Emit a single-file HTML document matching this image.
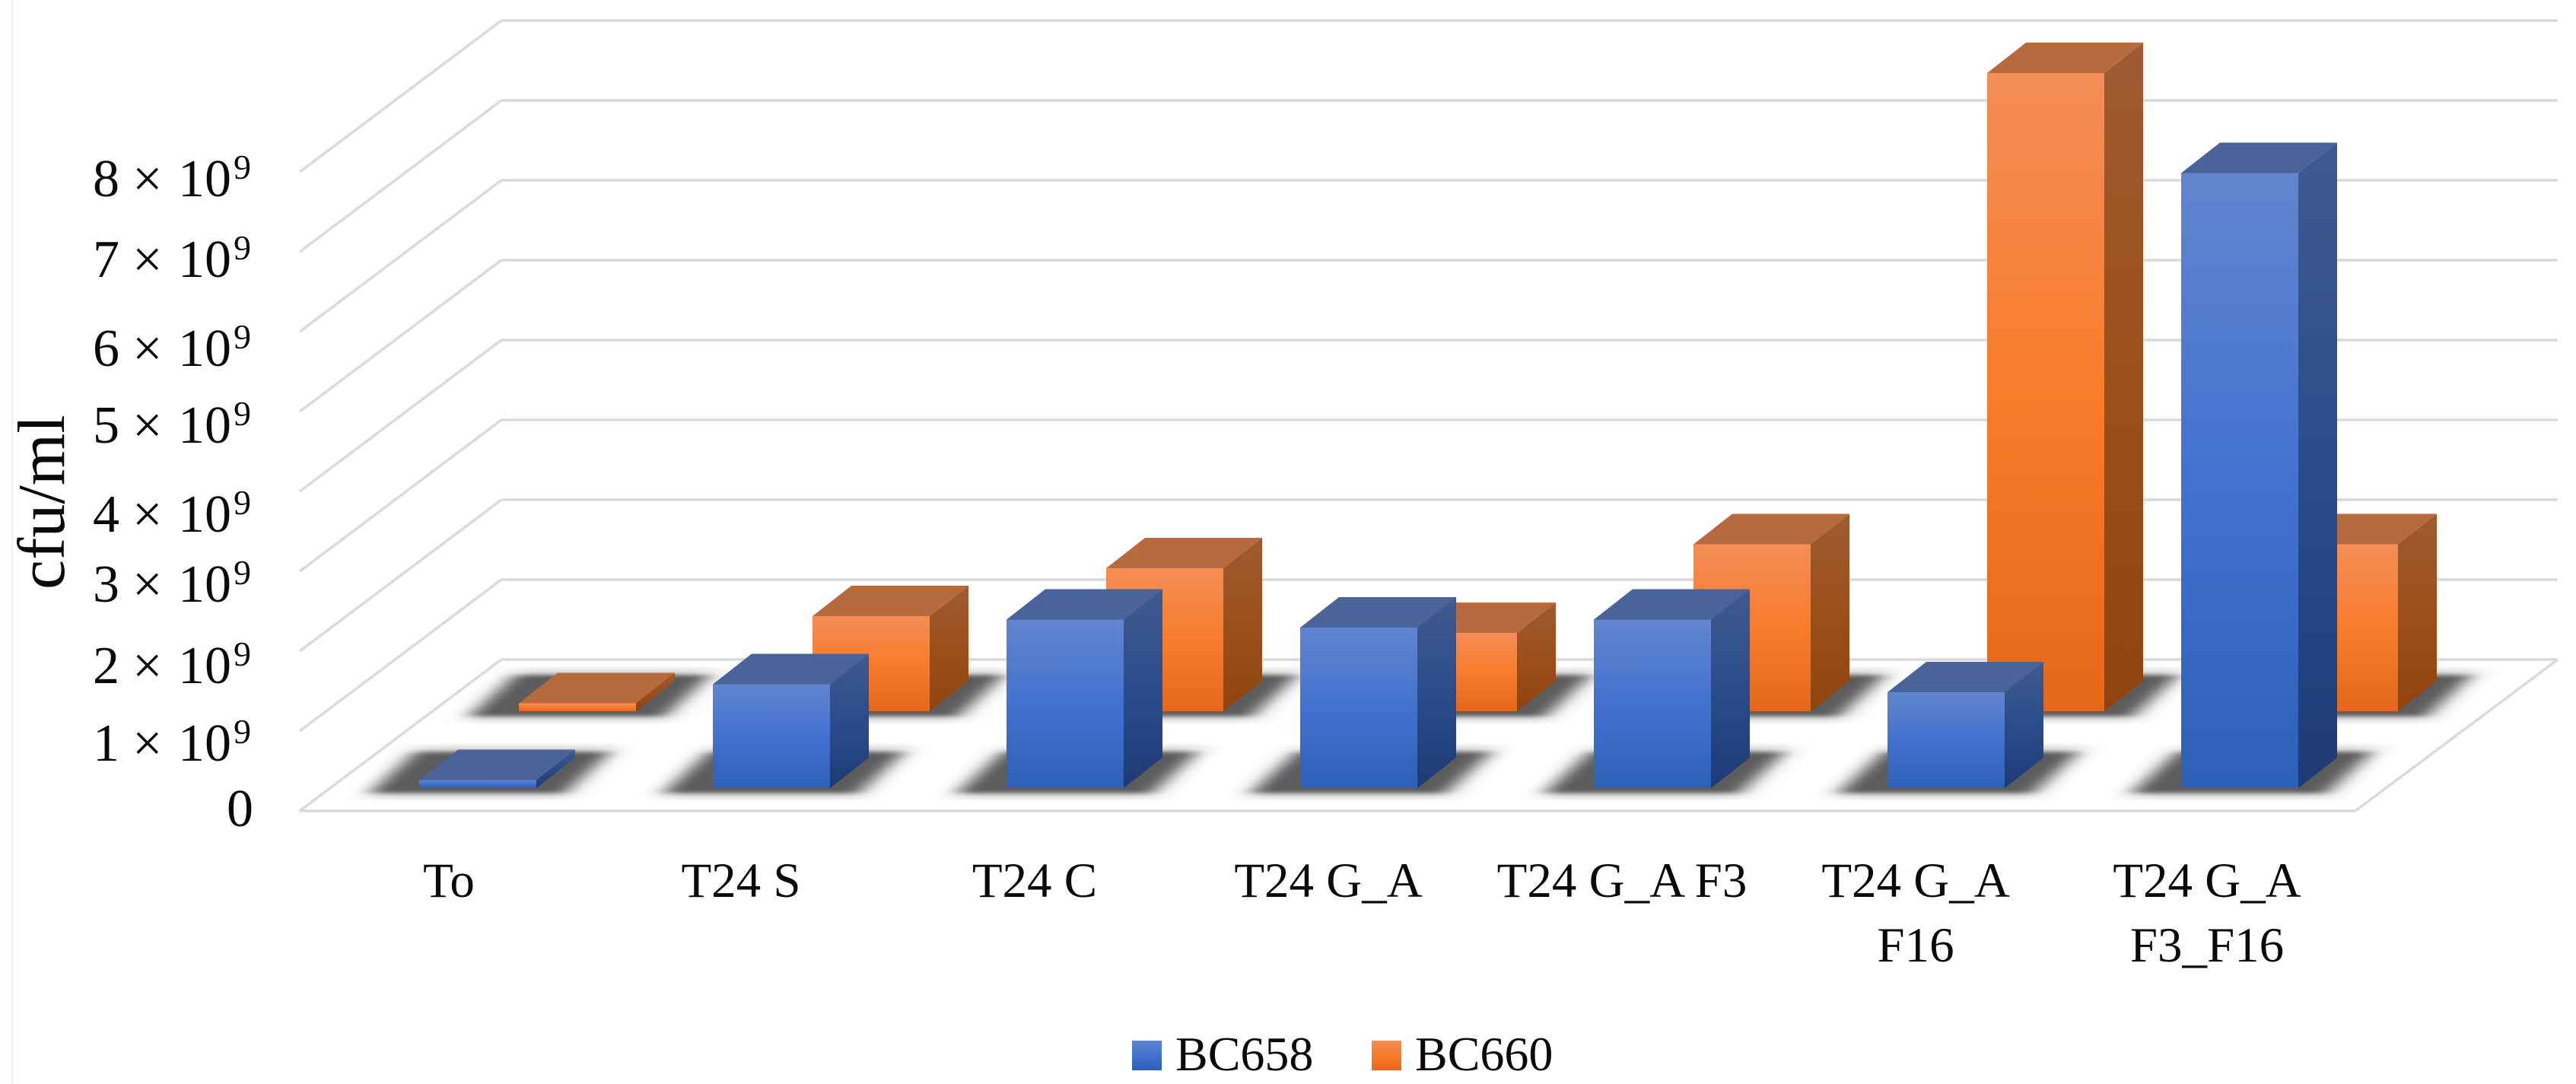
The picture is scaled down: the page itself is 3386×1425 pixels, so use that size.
<!DOCTYPE html>
<html lang="en">
<head>
<meta charset="utf-8">
<title>cfu/ml by treatment</title>
<style>
html,body{margin:0;padding:0;background:#fff;}
svg{display:block;}
text{font-family:"Liberation Serif",serif;fill:#0a0a0a;}
</style>
</head>
<body>
<svg id="chart" xmlns="http://www.w3.org/2000/svg" width="3386" height="1425" viewBox="0 0 3386 1425">
  <defs>
    <linearGradient id="blueFront" x1="0" y1="0" x2="0" y2="1">
      <stop offset="0" stop-color="#6285ce"/><stop offset="0.5" stop-color="#4272cf"/><stop offset="1" stop-color="#2e60b6"/>
    </linearGradient>
    <linearGradient id="blueSide" x1="0" y1="0" x2="0" y2="1">
      <stop offset="0" stop-color="#3f5a8e"/><stop offset="0.5" stop-color="#2b4c8c"/><stop offset="1" stop-color="#1d3a75"/>
    </linearGradient>
    <linearGradient id="orangeFront" x1="0" y1="0" x2="0" y2="1">
      <stop offset="0" stop-color="#f48d58"/><stop offset="0.5" stop-color="#f87c2a"/><stop offset="1" stop-color="#e46818"/>
    </linearGradient>
    <linearGradient id="orangeSide" x1="0" y1="0" x2="0" y2="1">
      <stop offset="0" stop-color="#9e5b32"/><stop offset="0.5" stop-color="#9c4f1a"/><stop offset="1" stop-color="#8f440f"/>
    </linearGradient>
    <filter id="shadowBlur" filterUnits="userSpaceOnUse" x="0" y="0" width="3386" height="1425">
      <feGaussianBlur stdDeviation="13 3"/>
    </filter>
    <filter id="haloBlur" filterUnits="userSpaceOnUse" x="0" y="0" width="3386" height="1425">
      <feGaussianBlur stdDeviation="18 2"/>
    </filter>
  </defs>

  <rect x="0" y="0" width="3386" height="1425" fill="#ffffff"/>
  <line x1="16" y1="0" x2="16" y2="1425" stroke="#f0f0f0" stroke-width="2"/>

  <g id="grid"></g>
  <g id="halos" filter="url(#haloBlur)"></g>
  <g id="shadows" filter="url(#shadowBlur)"></g>
  <g id="bars"></g>

  <text font-size="88" transform="translate(84,775) rotate(-90)">cfu/ml</text>

  <g font-size="70">
    <text y="258"><tspan x="122">8</tspan><tspan x="174">×</tspan><tspan x="234">10</tspan><tspan x="307" dy="-23" font-size="46">9</tspan></text>
    <text y="364"><tspan x="122">7</tspan><tspan x="174">×</tspan><tspan x="234">10</tspan><tspan x="307" dy="-23" font-size="46">9</tspan></text>
    <text y="481"><tspan x="122">6</tspan><tspan x="174">×</tspan><tspan x="234">10</tspan><tspan x="307" dy="-23" font-size="46">9</tspan></text>
    <text y="582"><tspan x="122">5</tspan><tspan x="174">×</tspan><tspan x="234">10</tspan><tspan x="307" dy="-23" font-size="46">9</tspan></text>
    <text y="699"><tspan x="122">4</tspan><tspan x="174">×</tspan><tspan x="234">10</tspan><tspan x="307" dy="-23" font-size="46">9</tspan></text>
    <text y="791"><tspan x="122">3</tspan><tspan x="174">×</tspan><tspan x="234">10</tspan><tspan x="307" dy="-23" font-size="46">9</tspan></text>
    <text y="898"><tspan x="122">2</tspan><tspan x="174">×</tspan><tspan x="234">10</tspan><tspan x="307" dy="-23" font-size="46">9</tspan></text>
    <text y="1000"><tspan x="122">1</tspan><tspan x="174">×</tspan><tspan x="234">10</tspan><tspan x="307" dy="-23" font-size="46">9</tspan></text>
    <text y="1086" x="298">0</text>
  </g>

  <g font-size="65" text-anchor="middle">
    <text x="590" y="1179">To</text>
    <text x="974" y="1179">T24 S</text>
    <text x="1360" y="1179">T24 C</text>
    <text x="1746" y="1179">T24 G_A</text>
    <text x="2132" y="1179">T24 G_A F3</text>
    <text y="1179"><tspan x="2518">T24 G_A</tspan><tspan x="2518" dy="85">F16</tspan></text>
    <text y="1179"><tspan x="2901">T24 G_A</tspan><tspan x="2901" dy="85">F3_F16</tspan></text>
  </g>

  <g>
    <g>
      <rect x="1488" y="1368" width="39" height="39" fill="url(#blueFront)"/>
      <text x="1545" y="1407" font-size="64">BC658</text>
    </g>
    <g>
      <rect x="1803" y="1368" width="39" height="39" fill="url(#orangeFront)"/>
      <text x="1860" y="1407" font-size="64">BC660</text>
    </g>
  </g>
</svg>

<script>
// Chart data (values in units of 10^9 cfu/ml)
const categories = ['To', 'T24 S', 'T24 C', 'T24 G_A', 'T24 G_A F3', 'T24 G_A F16', 'T24 G_A F3_F16'];
const seriesBC658 = [0.1, 1.3, 2.11, 2.01, 2.11, 1.2, 7.7];
const seriesBC660 = [0.1, 1.19, 1.79, 0.98, 2.09, 7.99, 2.09];
const gridLevels = [0, 1, 2, 3, 4, 5, 6, 7, 8];

const NS = 'http://www.w3.org/2000/svg';
const UNIT = 105;
const BAR_W = 154;
const DEPTH_X = 51;
const DEPTH_Y = 40;
const STEP = 386;

function yFromValue(v) { return v * UNIT; }
function blueX(i) { return 551 + STEP * i; }
function orangeX(i) { return 682 + STEP * i; }
function gridBackY(level) { return 867 - level * UNIT; }
function gridFrontY(level) { return 1066 - level * UNIT; }

function points(list) {
  return list.map(function (p) { return p[0] + ',' + p[1]; }).join(' ');
}

const gridGroup = document.getElementById('grid');
const haloGroup = document.getElementById('halos');
const shadowGroup = document.getElementById('shadows');
const barGroup = document.getElementById('bars');

function drawLine(x1, y1, x2, y2) {
  const el = document.createElementNS(NS, 'line');
  
  
  el.setAttribute('x1', x1);
  el.setAttribute('y1', y1);
  el.setAttribute('x2', x2);
  el.setAttribute('y2', y2);
  el.setAttribute('stroke', '#dadada');
  el.setAttribute('stroke-width', '3.5');
  gridGroup.appendChild(el);
}

gridLevels.forEach(function (level) {
  drawLine(394, gridFrontY(level), 659, gridBackY(level));
  drawLine(659, gridBackY(level), 3362, gridBackY(level));
});
drawLine(394, gridFrontY(0), 3096, gridFrontY(0));
drawLine(3096, gridFrontY(0), 3362, gridBackY(0));

function drawShadow(x, base) {
  const halo = document.createElementNS(NS, 'polygon');
  
  
  halo.setAttribute('points', points([
    [x - 72, base + 15],
    [x + 196, base + 15],
    [x + 264, base - 57],
    [x - 4, base - 57]
  ]));
  halo.setAttribute('fill', '#e6e6e6');
  haloGroup.appendChild(halo);

  const poly = document.createElementNS(NS, 'polygon');
  
  
  poly.setAttribute('points', points([
    [x - 65, base + 7],
    [x + 190, base + 7],
    [x + 251, base - 48],
    [x - 4, base - 48]
  ]));
  poly.setAttribute('fill', '#5c5c5c');
  shadowGroup.appendChild(poly);
}

function drawFace(group, name, pts, fill) {
  const poly = document.createElementNS(NS, 'polygon');
  
  
  poly.setAttribute('points', points(pts));
  poly.setAttribute('fill', fill);
  group.appendChild(poly);
}

function drawBar(seriesName, category, x, base, value, frontFill, sideFill, topFill) {
  const h = yFromValue(value);
  const top = base - h;
  const g = document.createElementNS(NS, 'g');
  
  
  drawFace(g, 'bar-side', [
    [x + BAR_W, base], [x + BAR_W + DEPTH_X, base - DEPTH_Y],
    [x + BAR_W + DEPTH_X, top - DEPTH_Y], [x + BAR_W, top]
  ], sideFill);
  drawFace(g, 'bar-top', [
    [x, top], [x + BAR_W, top],
    [x + BAR_W + DEPTH_X, top - DEPTH_Y], [x + DEPTH_X, top - DEPTH_Y]
  ], topFill);
  drawFace(g, 'bar-front', [
    [x, base], [x + BAR_W, base], [x + BAR_W, top], [x, top]
  ], frontFill);
  barGroup.appendChild(g);
}

categories.forEach(function (c, i) { drawShadow(orangeX(i), 935); });
categories.forEach(function (c, i) { drawShadow(blueX(i), 1036); });

seriesBC660.forEach(function (v, i) {
  drawBar('bc660', categories[i], orangeX(i), 935, v, 'url(#orangeFront)', 'url(#orangeSide)', '#b66a3e');
});
seriesBC658.forEach(function (v, i) {
  drawBar('bc658', categories[i], blueX(i), 1036, v, 'url(#blueFront)', 'url(#blueSide)', '#4a6398');
});
</script>
</body>
</html>
